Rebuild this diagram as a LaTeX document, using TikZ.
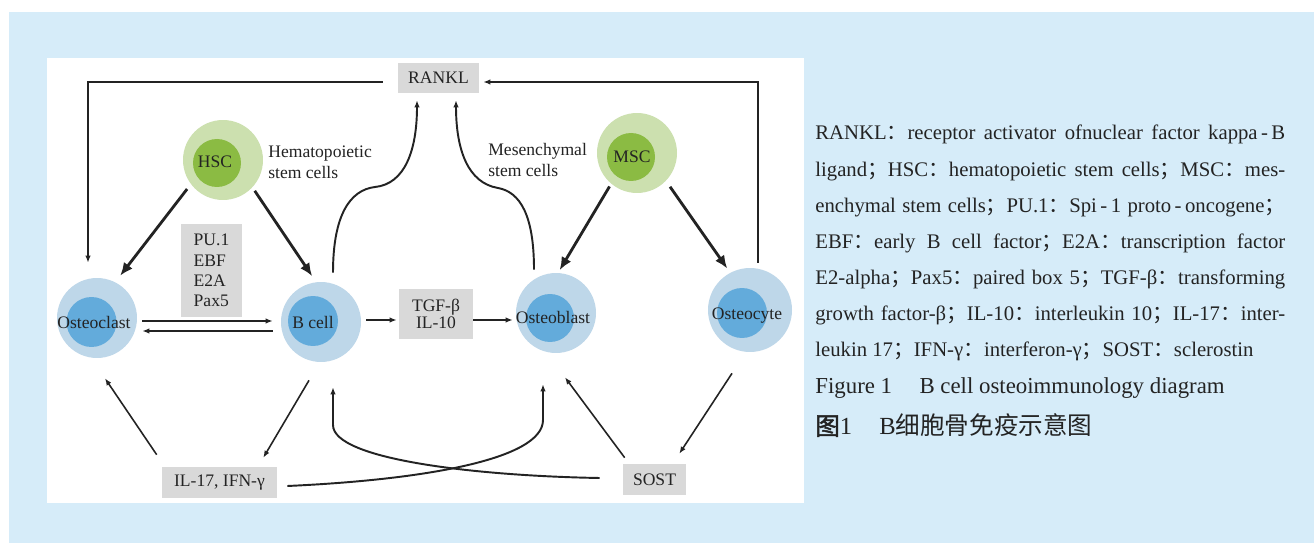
\documentclass[tikz,border=0pt]{standalone}
\usepackage{fontspec}
\setmainfont{Liberation Serif}
\newfontfamily\cjk{Noto Sans CJK SC}
\newfontfamily\cjkbold[FakeBold=2]{Noto Sans CJK SC}
\usetikzlibrary{arrows.meta,positioning,calc}
\definecolor{PageBlue}{RGB}{214,236,249}
\definecolor{CellBlue}{RGB}{190,215,233}
\definecolor{CoreBlue}{RGB}{99,171,219}
\definecolor{StemGreen}{RGB}{204,224,175}
\definecolor{CoreGreen}{RGB}{139,187,67}
\definecolor{BoxGray}{RGB}{217,217,217}
\definecolor{InkBlack}{RGB}{35,35,35}
\newcommand{\fwc}{{\cjk ：}}
\newcommand{\fws}{{\cjk ；}}
\newcommand{\fillline}[1]{\makebox[9.4cm][s]{#1}}
\tikzset{
  outercell/.style={circle,fill=CellBlue,minimum size=1.6cm,inner sep=0pt},
  innercell/.style={circle,fill=CoreBlue,minimum size=1cm,inner sep=0pt},
  outerstem/.style={circle,fill=StemGreen,minimum size=1.6cm,inner sep=0pt},
  innerstem/.style={circle,fill=CoreGreen,minimum size=0.96cm,inner sep=0pt},
  celltext/.style={inner sep=0pt,text=InkBlack,font=\fontsize{10}{12}\selectfont},
  stemlabel/.style={inner sep=0pt,anchor=west,align=left,text=InkBlack,
    font=\fontsize{10}{12}\selectfont},
  factorbox/.style={fill=BoxGray,inner sep=0pt,align=center,text=InkBlack,
    font=\fontsize{10}{11.5}\selectfont},
  thinarrow/.style={-{Latex[length=1.4mm,width=1.1mm]},line width=0.9pt,draw=InkBlack},
  thickarrow/.style={-{Latex[length=2.6mm,width=2.2mm]},line width=1.6pt,draw=InkBlack},
  curvearrow/.style={-{Latex[length=1.4mm,width=1.1mm]},line width=1.1pt,draw=InkBlack},
  legendtext/.style={inner sep=0pt,align=left,text=InkBlack,
    font=\fontsize{11.8}{20.6}\selectfont},
}
\begin{document}
\begin{tikzpicture}[x=0.02cm,y=-0.02cm]
  \useasboundingbox (0,0) rectangle (1314,543);
  \fill[white] (0,0) rectangle (1314,543);
  \fill[PageBlue] (9,12) rectangle (1314,543);
  \fill[white] (47,58) rectangle (804,503);

  \node[outerstem] (hsc) at (223,160) {};
  \node[innerstem] (hsc-core) at (217,163) {};
  \node[celltext] (hsc-label) at (215,162) {HSC};
  \node[stemlabel] (hsc-note) at (268,162) {Hematopoietic\\stem cells};

  \node[outerstem] (msc) at (637,153) {};
  \node[innerstem] (msc-core) at (631,157) {};
  \node[celltext] (msc-label) at (632,157) {MSC};
  \node[stemlabel] (msc-note) at (488,160) {Mesenchymal\\stem cells};

  \node[outercell] (osteoclast) at (97,318) {};
  \node[innercell] (osteoclast-core) at (91.5,322) {};
  \node[celltext] (osteoclast-label) at (94,322) {Osteoclast};

  \node[outercell] (bcell) at (321,322) {};
  \node[innercell] (bcell-core) at (313,321) {};
  \node[celltext] (bcell-label) at (313,322) {B cell};

  \node[outercell] (osteoblast) at (556,313) {};
  \node[innercell,minimum size=0.96cm] (osteoblast-core) at (550,318) {};
  \node[celltext] (osteoblast-label) at (553,317) {Osteoblast};

  \node[outercell,minimum size=1.68cm] (osteocyte) at (750,310) {};
  \node[innercell] (osteocyte-core) at (742,313) {};
  \node[celltext] (osteocyte-label) at (747,316) {Osteocyte};

  \node[factorbox,minimum width=1.62cm,minimum height=0.6cm] (rankl) at (438.5,78) {RANKL};
  \node[factorbox,minimum width=1.22cm,minimum height=1.88cm,align=left] (tf) at (211.5,270.5) {PU.1\\EBF\\E2A\\Pax5};
  \node[factorbox,minimum width=1.48cm,minimum height=1cm,font=\fontsize{10}{10}\selectfont] (tgf) at (436,314) {TGF-β\\IL-10};
  \node[factorbox,minimum width=2.3cm,minimum height=0.62cm] (il17) at (219.5,482.5) {IL-17, IFN-γ};
  \node[factorbox,minimum width=1.26cm,minimum height=0.62cm] (sost) at (654.5,479.5) {SOST};

  \draw[thinarrow] ([shift={(-15,4)}]rankl.west) -| ([shift={(-9,-15)}]osteoclast.north);
  \draw[thinarrow] ([shift={(8,-5)}]osteocyte.north) |- ([shift={(4,4)}]rankl.east);

  \draw[thickarrow,shorten <=0.12cm,shorten >=0.16cm] (hsc.217) -- (osteoclast.63);
  \draw[thickarrow,shorten <=0.08cm,shorten >=0.14cm] (hsc.-43) -- (bcell.97);
  \draw[thickarrow,shorten <=0.06cm,shorten >=0.06cm] (msc.230) -- (osteoblast.87);
  \draw[thickarrow,shorten <=0.14cm,shorten >=0.1cm] (msc.-44) -- (osteocyte.118);

  \draw[thinarrow] ([shift={(5,3)}]osteoclast.east) -- ([shift={(-8,-1)}]bcell.west);
  \draw[thinarrow] ([shift={(-8,9)}]bcell.west) -- ([shift={(5,13)}]osteoclast.east);
  \draw[thinarrow] ([shift={(5,-2)}]bcell.east) -- ([shift={(-2,6)}]tgf.west);
  \draw[thinarrow] ([shift={(0,6)}]tgf.east) -- ([shift={(-3,7)}]osteoblast.west);

  \draw[curvearrow] ([shift={(12,-9)}]bcell.north) .. controls (333,215) and (350,190) .. (375,187)
    .. controls (405,184) and (417,150) .. ([shift={(-21.5,7)}]rankl.south);
  \draw[curvearrow] ([shift={(-22,-3)}]osteoblast.north) .. controls (534,215) and (520,192) .. (498,188)
    .. controls (468,183) and (456,150) .. ([shift={(17.5,7)}]rankl.south);

  \draw[thinarrow] ([shift={(-5,-12)}]il17.north west) -- ([shift={(8,20)}]osteoclast.south);
  \draw[thinarrow] ([shift={(-12,18)}]bcell.south) -- ([shift={(-14,-9)}]il17.north east);
  \draw[curvearrow] ([shift={(10,3.5)}]il17.east) .. controls (420,480) and (543,460) .. (543,420)
    -- ([shift={(-13,31)}]osteoblast.south);
  \draw[curvearrow] ([shift={(-23,-1.5)}]sost.west) .. controls (480,476) and (333,460) .. (333,425)
    -- ([shift={(12,25)}]bcell.south);
  \draw[thinarrow] ([shift={(2,-6)}]sost.north west) -- ([shift={(9,24)}]osteoblast.south);
  \draw[thinarrow] ([shift={(-18,21)}]osteocyte.south) -- ([shift={(-7,-10)}]sost.north east);

  \node[legendtext,anchor=base west] (legend) at (815,357) {%
    \fillline{RANKL\fwc receptor activator ofnuclear factor kappa\,-\,B}\\
    \fillline{ligand\fws HSC\fwc hematopoietic stem cells\fws MSC\fwc mes-}\\
    \fillline{enchymal stem cells\fws PU.1\fwc Spi\,-\,1 proto\,-\,oncogene\fws}\\
    \fillline{EBF\fwc early B cell factor\fws E2A\fwc transcription factor}\\
    \fillline{E2-alpha\fws Pax5\fwc paired box 5\fws TGF-β\fwc transforming}\\
    \fillline{growth factor-β\fws IL-10\fwc interleukin 10\fws IL-17\fwc inter-}\\
    leukin 17\fws IFN-γ\fwc interferon-γ\fws SOST\fwc sclerostin};
  \node[legendtext,anchor=base west,font=\fontsize{13}{15}\selectfont] (caption-en) at (815,394)
    {Figure 1\hspace{1.2em}B cell osteoimmunology diagram};
  \node[legendtext,anchor=base west,font=\fontsize{14}{16}\selectfont] (caption-zh) at (815,435)
    {{\cjkbold 图}1\hspace{1.1em}B{\cjk 细胞骨免疫示意图}};
\end{tikzpicture}
\end{document}
